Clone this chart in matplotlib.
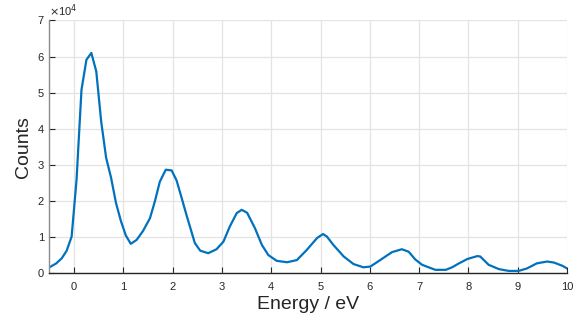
#spectrum plot: counts vs energy
import numpy as np
import matplotlib.pyplot as plt
from matplotlib.ticker import FuncFormatter

plt.rcParams['font.family']=['Liberation Sans','DejaVu Sans']

energy=[-0.50,-0.36,-0.25,-0.15,-0.05,0.05,0.15,0.25,0.35,0.45,0.55,0.65,0.75,0.85,0.95,
        1.05,1.15,1.27,1.40,1.54,1.64,1.74,1.86,1.98,2.08,2.18,2.29,2.35,2.45,2.56,2.72,
        2.89,3.03,3.16,3.30,3.40,3.51,3.67,3.81,3.94,4.11,4.32,4.52,4.72,
        4.93,5.05,5.13,5.26,5.47,5.67,5.87,6.01,6.21,6.45,6.65,6.79,
        6.92,7.06,7.33,7.54,7.67,7.81,7.98,8.18,8.24,8.41,8.62,8.82,9.02,9.19,9.39,
        9.60,9.74,9.91,10.0]
counts=[1700,2800,4200,6300,10200,26000,50800,59100,61000,55900,42000,32000,26500,19500,14500,
        10500,8200,9300,11800,15300,20000,25400,28700,28500,25700,21000,15700,13000,8400,6300,5600,
        6700,8800,13000,16700,17600,16800,12500,7900,5100,3500,3100,3700,6500,
        9800,10900,10200,7900,4700,2600,1700,1900,3700,5900,6700,6000,
        3900,2400,1000,1000,1700,2800,4000,4800,4700,2400,1200,700,700,1400,2800,
        3300,3000,2100,1400]

fig=plt.figure(figsize=(5.75,3.24),dpi=100)
ax=fig.add_axes([0.086,0.156,0.9,0.781])
ax.plot(energy,counts,color='#0072BD',lw=1.6)
ax.set_xlim(-0.5,10)
ax.set_ylim(0,70000)
ax.set_xticks(range(0,11))
ax.set_yticks(range(0,70001,10000))
ax.yaxis.set_major_formatter(FuncFormatter(lambda v,p:'{:.0f}'.format(v/1e4)))
ax.grid(True,color='#e3e3e3',lw=0.9)
ax.set_axisbelow(True)
for s in ['top','right']:
    ax.spines[s].set_visible(False)
ax.spines['left'].set_color('#8c8c8c')
ax.spines['bottom'].set_color('#262626')
for s in ['left','bottom']:
    ax.spines[s].set_linewidth(1.0)
ax.tick_params(direction='in',length=4,width=0.8,labelsize=8,colors='#262626')
ax.tick_params(axis='x',pad=6)
ax.tick_params(axis='y',pad=4)
ax.text(0.0,1.005,r'$\times$10$^4$',transform=ax.transAxes,fontsize=8,color='#262626',
        ha='left',va='bottom')
ax.set_xlabel('Energy / eV',fontsize=14,color='#262626',labelpad=3)
ax.set_ylabel('Counts',fontsize=14,color='#262626',labelpad=4)
plt.savefig('out.png')
